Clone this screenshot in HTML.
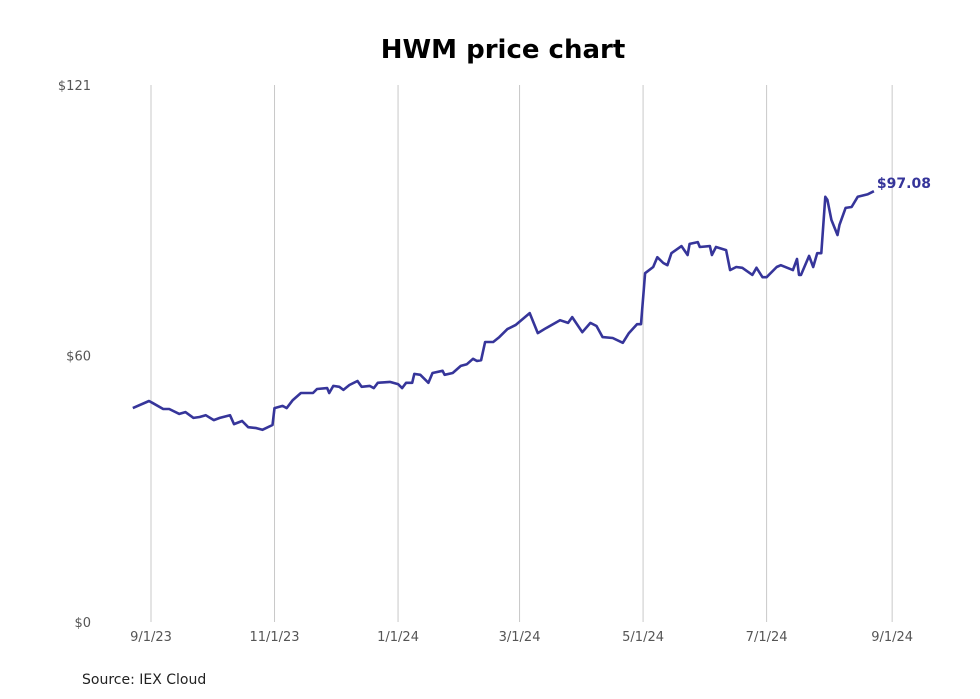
<!DOCTYPE html>
<html><head><meta charset="utf-8"><style>
body{margin:0;background:#fff;}
svg{display:block;font-family:"DejaVu Sans","Liberation Sans",sans-serif;}
</style></head><body>
<svg id="chart" width="980" height="699" viewBox="0 0 980 699">
<rect width="980" height="699" fill="#fff"/>
<text x="503" y="58" text-anchor="middle" font-size="26" font-weight="bold" fill="#000">HWM price chart</text>
<g id="grid"></g>
<g id="yticks"></g>
<g id="xticks"></g>
<path id="line" fill="none" stroke="#36359a" stroke-width="2.6" stroke-linejoin="round"/>
<text id="lastlabel" font-size="14" font-weight="bold" fill="#36359a"></text>
<text x="82" y="684" font-size="14" fill="#222">Source: IEX Cloud</text>
</svg>
<script>
// days since 2023-09-01
const days = [-9,-1,1,6,9,14,17,21,24,27,31,34,39,41,45,48,52,55,60,61,65,67,70,74,80,82,87,88,90,93,95,98,102,104,108,110,112,118,122,124,126,129,130,133,137,139,144,145,149,153,156,159,161,163,165,169,172,176,180,187,191,195,202,206,208,213,217,220,223,228,233,236,240,242,244,248,250,253,255,257,262,265,266,270,271,276,277,279,284,286,289,292,297,299,302,304,309,311,317,319,320,321,325,327,329,331,333,334,336,339,340,343,346,349,354,357];
const prices = [48.2,49.8,49.3,48.0,48.0,46.9,47.3,46.0,46.2,46.6,45.5,46.0,46.6,44.6,45.3,43.9,43.7,43.3,44.4,48.2,48.7,48.2,50.0,51.6,51.6,52.5,52.7,51.6,53.2,53.0,52.3,53.4,54.3,53.0,53.2,52.7,53.9,54.1,53.6,52.7,53.9,53.9,55.9,55.7,53.9,56.1,56.6,55.7,56.1,57.7,58.1,59.3,58.8,59.0,63.1,63.1,64.2,66.0,66.9,69.6,65.1,66.2,68.0,67.4,68.7,65.3,67.4,66.7,64.2,64.0,62.9,65.1,67.1,67.1,78.6,80.0,82.2,80.9,80.4,83.1,84.7,82.7,85.2,85.6,84.5,84.7,82.7,84.5,83.8,79.3,80.0,79.8,78.2,79.8,77.7,77.7,80.0,80.4,79.3,81.8,78.2,78.2,82.5,80.0,83.1,83.1,95.8,95.1,90.6,87.2,89.5,93.3,93.5,95.8,96.4,97.08];
const xTickDays = [0,61,122,182,243,304,366];
const xTickLabels = ["9/1/23","11/1/23","1/1/24","3/1/24","5/1/24","7/1/24","9/1/24"];
const yTickValues = [0,60,121];
const yTickLabels = ["$0","$60","$121"];
const lastLabel = "$97.08";

const NS="http://www.w3.org/2000/svg";
function xs(d){return 151 + d*2.025;}
function ys(v){return 622 - v*(537/121);}
function mk(tag,attrs,parent){const e=document.createElementNS(NS,tag);for(const k in attrs)e.setAttribute(k,attrs[k]);parent.appendChild(e);return e;}
const grid=document.getElementById('grid'),xt=document.getElementById('xticks'),yt=document.getElementById('yticks');
xTickDays.forEach((d,i)=>{
  const l=mk('line',{x1:xs(d),x2:xs(d),y1:85,y2:622,stroke:'#c8c8c8','stroke-width':1},grid);
  
  
  const t=mk('text',{x:xs(d),y:641,'text-anchor':'middle','font-size':13,fill:'#555'},xt);
  t.textContent=xTickLabels[i];
  
  
});
yTickValues.forEach((v,i)=>{
  const t=mk('text',{x:91,y:ys(v)+5,'text-anchor':'end','font-size':13,fill:'#555'},yt);
  t.textContent=yTickLabels[i];
  
  
});
let d='';
days.forEach((dd,i)=>{d+=(i?'L':'M')+xs(dd).toFixed(1)+','+ys(prices[i]).toFixed(1);});
document.getElementById('line').setAttribute('d',d);
const lb=document.getElementById('lastlabel');
const n=days.length-1;
lb.setAttribute('x',xs(days[n])+3);
lb.setAttribute('y',ys(prices[n])-3);
lb.textContent=lastLabel;
</script>
</body></html>
